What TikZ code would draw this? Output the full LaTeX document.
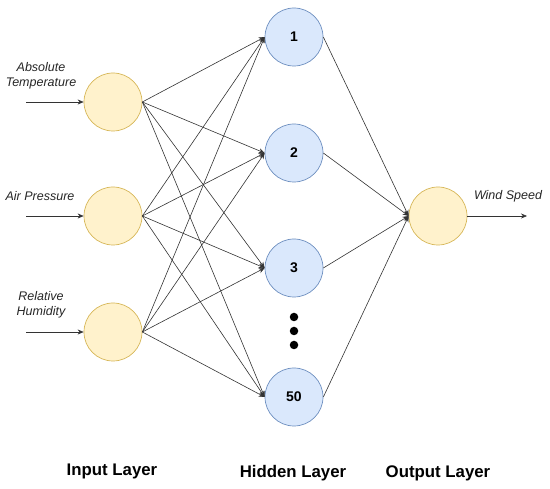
\documentclass[tikz,border=0pt]{standalone}
\usepackage{fontspec}
\setmainfont{Liberation Sans}
\usetikzlibrary{arrows.meta}
\definecolor{yfill}{HTML}{FFF2CC}
\definecolor{ydraw}{HTML}{D6B656}
\definecolor{bfill}{HTML}{DAE8FC}
\definecolor{bdraw}{HTML}{6C8EBF}
\begin{document}
\begin{tikzpicture}[x=1pt,y=-1pt,
  inode/.style={circle,draw=ydraw,fill=yfill,minimum size=58pt,inner sep=0pt,line width=0.7pt},
  hnode/.style={circle,draw=bdraw,fill=bfill,minimum size=58pt,inner sep=0pt,line width=0.7pt,font=\bfseries\fontsize{14}{16}\selectfont},
  conn/.style={draw=black!80,line width=0.6pt,-{Stealth[length=6pt,width=5pt]}},
  lbl/.style={font=\itshape\fontsize{12.5}{15}\selectfont,align=center,text=black!85},
  layer/.style={font=\bfseries\fontsize{16.8}{19}\selectfont},
  dot/.style={circle,fill=black,inner sep=0pt,minimum size=8.5pt}]
\useasboundingbox (0,0) rectangle (550,489);
\node[inode] (i1) at (113,102) {};
\node[inode] (i2) at (113,216) {};
\node[inode] (i3) at (113,332) {};
\node[hnode] (h1) at (294,37) {1};
\node[hnode] (h2) at (294,153) {2};
\node[hnode] (h3) at (294,268) {3};
\node[hnode] (h4) at (294,397) {50};
\node[inode] (o) at (438,216) {};
\node[dot] (d1) at (294,317) {};
\node[dot] (d2) at (294,331) {};
\node[dot] (d3) at (294,345) {};
\coordinate (a1) at (26,102);
\coordinate (a2) at (26,216);
\coordinate (a3) at (26,332);
\coordinate (ao) at (527,216);
\draw[conn] (a1) -- (i1.west);
\draw[conn] (a2) -- (i2.west);
\draw[conn] (a3) -- (i3.west);
\node[lbl] (l1) at (41,76) {Absolute\\Temperature};
\node[lbl] (l2) at (40,196) {Air Pressure};
\node[lbl] (l3) at (41,305) {Relative\\Humidity};
\foreach \i in {1,2,3}{
  \foreach \h in {1,2,3,4}{
    \draw[conn] (i\i.east) -- (h\h.west);
  }
}
\foreach \h in {1,2,3,4}{
  \draw[conn] (h\h.east) -- (o.west);
}
\draw[conn] (o.east) -- (ao);
\node[lbl,anchor=center] (lw) at (508,196) {Wind Speed};
\node[layer] (L1) at (112,471) {Input Layer};
\node[layer] (L2) at (293,473) {Hidden Layer};
\node[layer] (L3) at (438,473) {Output Layer};
\end{tikzpicture}
\end{document}
